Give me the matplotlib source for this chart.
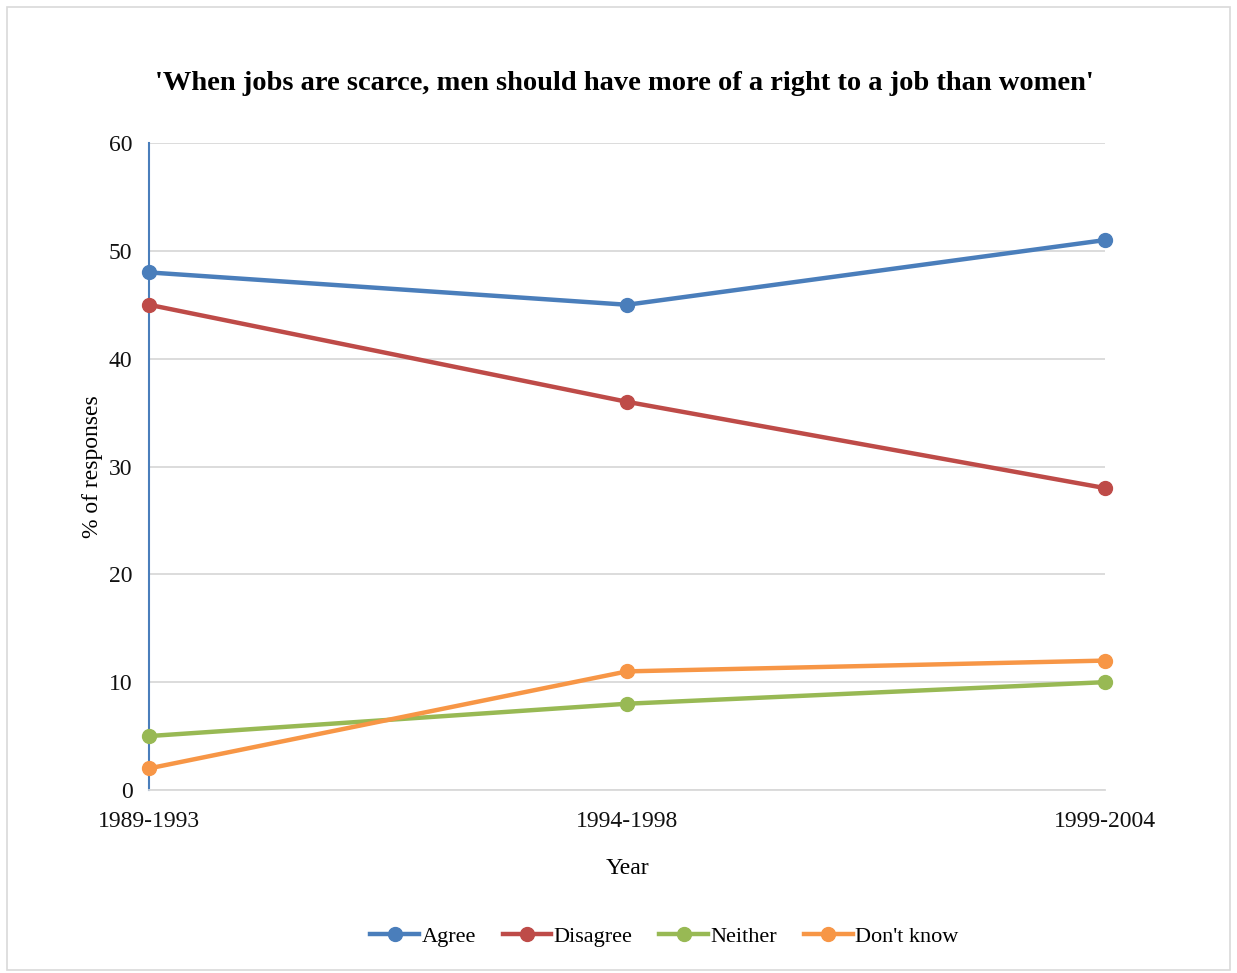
import matplotlib.pyplot as plt
from matplotlib.patches import Rectangle

plt.rcParams['font.family'] = ['Liberation Serif', 'DejaVu Serif']

years = ["1989-1993", "1994-1998", "1999-2004"]
agree = [48, 45, 51]
disagree = [45, 36, 28]
neither = [5, 8, 10]
dont_know = [2, 11, 12]

series = [
    ("Agree", agree, "#4A7EBB"),
    ("Disagree", disagree, "#BE4B48"),
    ("Neither", neither, "#98B954"),
    ("Don't know", dont_know, "#F79646"),
]

fig = plt.figure(figsize=(12.37, 9.73), dpi=100)
fig.patches.append(Rectangle((0.006, 0.003), 0.988, 0.99, transform=fig.transFigure,
                             fill=False, edgecolor="#D9D9D9", linewidth=1.2))
ax = fig.add_axes([0.1205, 0.1881, 0.7728, 0.6649])

x = list(range(len(years)))
for name, vals, col in series:
    ax.plot(x, vals, color=col, linewidth=3.2, marker="o", markersize=10,
            label=name, clip_on=False, zorder=3)

ax.set_xlim(0, 2)
ax.set_ylim(0, 60)
ax.set_yticks(range(0, 61, 10))
ax.set_xticks(x)
ax.set_xticklabels(years)
ax.tick_params(length=0, labelsize=17, colors="#111111")
ax.tick_params(axis="x", pad=15)
ax.tick_params(axis="y", pad=12)
ax.grid(axis="y", color="#D9D9D9", linewidth=1.3)
ax.set_axisbelow(True)
for s in ["top", "right"]:
    ax.spines[s].set_visible(False)
ax.spines["left"].set_color("#4A7EBB")
ax.spines["left"].set_linewidth(1.5)
ax.spines["bottom"].set_color("#D9D9D9")
ax.spines["bottom"].set_linewidth(1.3)

ax.set_xlabel("Year", fontsize=17, labelpad=19)
ax.set_ylabel("% of responses", fontsize=17, labelpad=4)
fig.text(0.505, 0.914, "'When jobs are scarce, men should have more of a right to a job than women'",
         ha="center", va="center", fontsize=20.5, fontweight="bold")

fig.legend(loc="center", bbox_to_anchor=(0.537, 0.037), ncol=4, frameon=False,
           fontsize=16, handlelength=2.2, handletextpad=0.1, columnspacing=1.2)

fig.savefig("out.png", dpi=100)
